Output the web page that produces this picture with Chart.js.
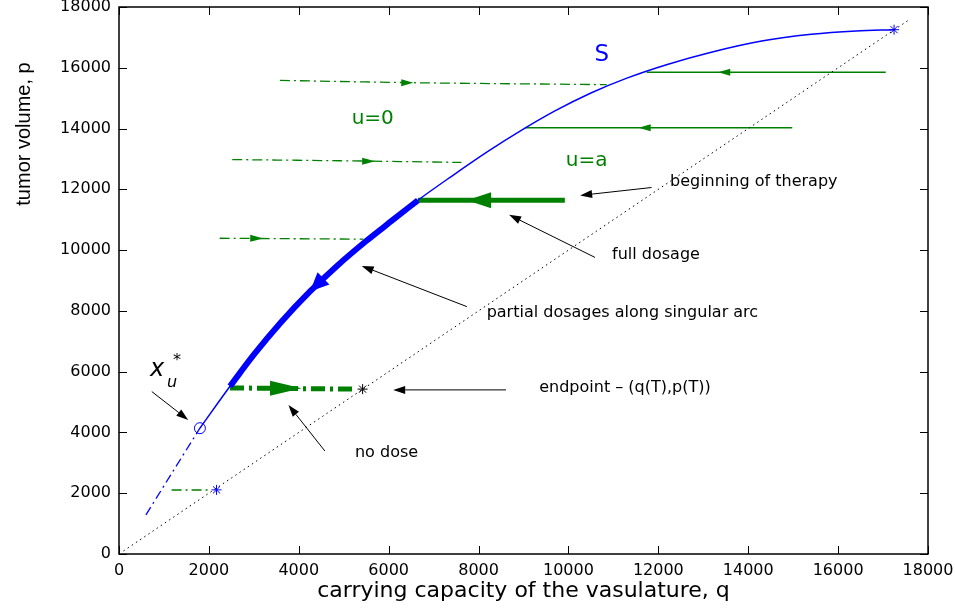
<!DOCTYPE html>
<html>
<head>
<meta charset="utf-8">
<script src="https://cdn.jsdelivr.net/npm/chart.js@4.4.0/dist/chart.umd.min.js"></script>
<style>
  html, body { margin: 0; padding: 0; background: #fff; }
  #wrap { width: 955px; height: 608px; }
</style>
</head>
<body>
<div id="wrap"><canvas id="chart" width="955" height="608"></canvas></div>
<script>
// singular arc S (q, p)
const arcQ = [600, 1200, 1800, 2470, 3000, 3600, 4250, 4850, 5500, 6100, 6650, 7400, 8200, 8950, 9700, 10500, 11300, 12200, 13200, 14300, 15400, 16400, 17250];
const arcP = [1290, 2720, 4140, 5520, 6560, 7620, 8640, 9480, 10300, 11000, 11640, 12430, 13240, 13940, 14580, 15170, 15660, 16110, 16520, 16880, 17100, 17210, 17254];
const switchQ = 1800;          // x_u* on the arc
const partialFrom = 2470;      // partial dosage section of the arc
const partialTo = 6650;

// diagonal p = q
const diagQ = [100, 17600];
const diagP = [100, 17600];

// u = 0 trajectories (dash-dot)
const zero1Q = [3580, 6500, 10850];
const zero1P = [15585, 15510, 15445];
const zero2Q = [2520, 5500, 7620];
const zero2P = [12980, 12930, 12885];
const zero3Q = [2240, 5440];
const zero3P = [10390, 10360];
const noDoseQ = [2470, 5250];
const noDoseP = [5465, 5425];
const lowZeroQ = [1170, 2030];
const lowZeroP = [2107, 2107];

// u = a trajectories (solid)
const full1Q = [17060, 11740];
const full1P = [15850, 15850];
const full2Q = [14980, 9030];
const full2P = [14027, 14027];
const startQ = [9920, 6650];
const startP = [11640, 11640];

// markers
const blueStarQ = [17245, 2170];
const blueStarP = [17254, 2110];
const endStarQ = [5420];
const endStarP = [5425];

// arrowheads on the trajectories: tip and back, data units
const headTips = [[13330, 15850], [11560, 14027], [7740, 11640], [6550, 15505], [5700, 12925], [3210, 10385], [4065, 5452], [4250, 8640]];
const headBacks = [[13600, 15850], [11830, 14027], [8280, 11640], [6280, 15510], [5410, 12928], [2920, 10388], [3360, 5458], [4550, 9070]];

// annotations
const noteTexts = ['beginning of therapy', 'full dosage', 'partial dosages along singular arc', 'endpoint \u2013 (q(T),p(T))', 'no dose'];
const noteAt = [[12260, 12250], [10970, 9845], [8180, 7935], [9350, 5456], [5250, 3335]];
const noteTails = [[11850, 12060], [10590, 9760], [7740, 8140], [8610, 5400], [4580, 3390], [730, 5345]];
const noteTips = [[10260, 11800], [8680, 11160], [5400, 9480], [6100, 5400], [3770, 4905], [1540, 4410]];
const regionTexts = ['S', 'u=0', 'u=a'];
const regionAt = [[10740, 16430], [5645, 14312], [10406, 12950]];
const xuAt = [690, 6058];

const ticks = [0, 2000, 4000, 6000, 8000, 10000, 12000, 14000, 16000, 18000];

const BLUE = '#0000ff';
const GREEN = '#008000';
const SANS = '"DejaVu Sans", sans-serif';

const pts = (qs, ps) => qs.map((q, i) => ({ x: q, y: ps[i] }));
const arc = pts(arcQ, arcP);

const line = (data, color, width, dash) => ({
    data,
    showLine: true,
    borderColor: color,
    borderWidth: width,
    borderDash: dash || [],
    pointRadius: 0,
    fill: false,
    cubicInterpolationMode: 'monotone'
});

const headHalf = [3.5, 3.5, 8, 3.5, 3.5, 3.5, 7.5, 8.5];
const headColor = [GREEN, GREEN, GREEN, GREEN, GREEN, GREEN, GREEN, BLUE];

const drawHead = (ctx, tip, back, half, color) => {
    const dx = tip.x - back.x;
    const dy = tip.y - back.y;
    const len = Math.hypot(dx, dy) || 1;
    const ux = dx / len;
    const uy = dy / len;
    ctx.beginPath();
    ctx.moveTo(tip.x, tip.y);
    ctx.lineTo(back.x - uy * half, back.y + ux * half);
    ctx.lineTo(back.x + uy * half, back.y - ux * half);
    ctx.closePath();
    ctx.fillStyle = color;
    ctx.fill();
};

const decorations = {
    id: 'decorations',
    afterDatasetsDraw(chart) {
        const { ctx, chartArea: a, scales: { x, y } } = chart;
        const px = p => ({ x: x.getPixelForValue(p[0]), y: y.getPixelForValue(p[1]) });
        ctx.save();

        // arrowheads on trajectories
        headTips.forEach((t, i) => drawHead(ctx, px(t), px(headBacks[i]), headHalf[i], headColor[i]));

        // box and inward ticks
        ctx.strokeStyle = '#000';
        ctx.lineWidth = 1.5;
        ctx.strokeRect(a.left, a.top, a.right - a.left, a.bottom - a.top);
        ctx.lineWidth = 1;
        ctx.beginPath();
        ticks.forEach(v => {
            const tx = Math.round(x.getPixelForValue(v)) + 0.5;
            const ty = Math.round(y.getPixelForValue(v)) + 0.5;
            ctx.moveTo(tx, a.bottom); ctx.lineTo(tx, a.bottom - 8);
            ctx.moveTo(tx, a.top); ctx.lineTo(tx, a.top + 8);
            ctx.moveTo(a.left, ty); ctx.lineTo(a.left + 8, ty);
            ctx.moveTo(a.right, ty); ctx.lineTo(a.right - 8, ty);
        });
        ctx.stroke();

        // annotation arrows
        ctx.strokeStyle = '#000';
        ctx.lineWidth = 1;
        noteTails.forEach((t, i) => {
            const p0 = px(t);
            const p1 = px(noteTips[i]);
            const d = Math.hypot(p1.x - p0.x, p1.y - p0.y);
            const back = { x: p1.x - (p1.x - p0.x) / d * 12, y: p1.y - (p1.y - p0.y) / d * 12 };
            ctx.beginPath();
            ctx.moveTo(p0.x, p0.y);
            ctx.lineTo(back.x, back.y);
            ctx.stroke();
            drawHead(ctx, p1, back, 4, '#000');
        });

        // annotation texts
        ctx.fillStyle = '#000';
        ctx.font = '16px ' + SANS;
        ctx.textAlign = 'left';
        ctx.textBaseline = 'middle';
        noteTexts.forEach((s, i) => {
            const p = px(noteAt[i]);
            ctx.fillText(s, p.x, p.y);
        });

        // region labels
        ctx.textAlign = 'center';
        regionTexts.forEach((s, i) => {
            const p = px(regionAt[i]);
            ctx.fillStyle = i === 0 ? BLUE : GREEN;
            ctx.font = (i === 0 ? '23px ' : '20px ') + SANS;
            ctx.fillText(s, p.x, p.y);
        });

        // x_u^*
        const xu = px(xuAt);
        ctx.fillStyle = '#000';
        ctx.textAlign = 'left';
        ctx.font = 'italic 24px ' + SANS;
        ctx.fillText('x', xu.x, xu.y);
        ctx.font = 'italic 16px ' + SANS;
        ctx.fillText('u', xu.x + 17, xu.y + 13);
        ctx.font = '16px ' + SANS;
        ctx.fillText('*', xu.x + 23, xu.y - 9);

        // axis titles
        ctx.textAlign = 'center';
        ctx.font = '22px ' + SANS;
        ctx.fillText('carrying capacity of the vasulature, q', (a.left + a.right) / 2, 591);
        ctx.save();
        ctx.translate(24, 134);
        ctx.rotate(-Math.PI / 2);
        ctx.font = '20px "Liberation Sans", sans-serif';
        ctx.fillText('tumor volume, p', 0, 0);
        ctx.restore();

        ctx.restore();
    }
};

new Chart(document.getElementById('chart'), {
    type: 'scatter',
    data: {
        datasets: [
            line(pts(diagQ, diagP), '#000', 1, [1.5, 3.5]),
            line(arc.filter(p => p.x <= switchQ), BLUE, 1.3, [9, 4, 2, 4]),
            line(arc.filter(p => p.x >= switchQ), BLUE, 1.5),
            line(arc.filter(p => p.x >= partialFrom && p.x <= partialTo), BLUE, 6),
            line(pts(zero1Q, zero1P), GREEN, 1.3, [10, 4, 2, 4]),
            line(pts(zero2Q, zero2P), GREEN, 1.3, [10, 4, 2, 4]),
            line(pts(zero3Q, zero3P), GREEN, 1.3, [10, 4, 2, 4]),
            line(pts(lowZeroQ, lowZeroP), GREEN, 1.5, [10, 4, 2, 4]),
            line(pts(noDoseQ, noDoseP), GREEN, 5, [14, 5, 3, 5]),
            line(pts(full1Q, full1P), GREEN, 1.5),
            line(pts(full2Q, full2P), GREEN, 1.5),
            line(pts(startQ, startP), GREEN, 5),
            {
                data: pts(blueStarQ, blueStarP),
                pointStyle: 'star',
                pointRadius: 5,
                borderColor: BLUE,
                borderWidth: 1,
                backgroundColor: BLUE
            },
            {
                data: pts(endStarQ, endStarP),
                pointStyle: 'star',
                pointRadius: 5,
                borderColor: '#000',
                borderWidth: 1,
                backgroundColor: '#000'
            },
            {
                data: [{ x: switchQ, y: arcP[arcQ.indexOf(switchQ)] }],
                pointStyle: 'circle',
                pointRadius: 5.5,
                borderColor: BLUE,
                borderWidth: 1,
                backgroundColor: 'rgba(0,0,0,0)'
            }
        ]
    },
    options: {
        responsive: false,
        devicePixelRatio: 1,
        animation: false,
        events: [],
        layout: { padding: { left: 0, right: 27, top: 7, bottom: 0 } },
        plugins: { legend: { display: false }, tooltip: { enabled: false } },
        scales: {
            x: {
                type: 'linear',
                min: 0,
                max: 18000,
                grid: { display: false, drawTicks: false },
                border: { display: false },
                ticks: { stepSize: 2000, color: '#000', padding: 7, maxRotation: 0, font: { family: SANS, size: 16 }, callback: v => String(v) },
                afterFit: s => { s.height = 54; s.paddingLeft = 0; s.paddingRight = 0; }
            },
            y: {
                type: 'linear',
                min: 0,
                max: 18000,
                grid: { display: false, drawTicks: false },
                border: { display: false },
                ticks: { stepSize: 2000, color: '#000', padding: 8, font: { family: SANS, size: 16 }, callback: v => String(v) },
                afterFit: s => { s.width = 119; s.paddingTop = 0; s.paddingBottom = 0; }
            }
        }
    },
    plugins: [decorations]
});
</script>
</body>
</html>
